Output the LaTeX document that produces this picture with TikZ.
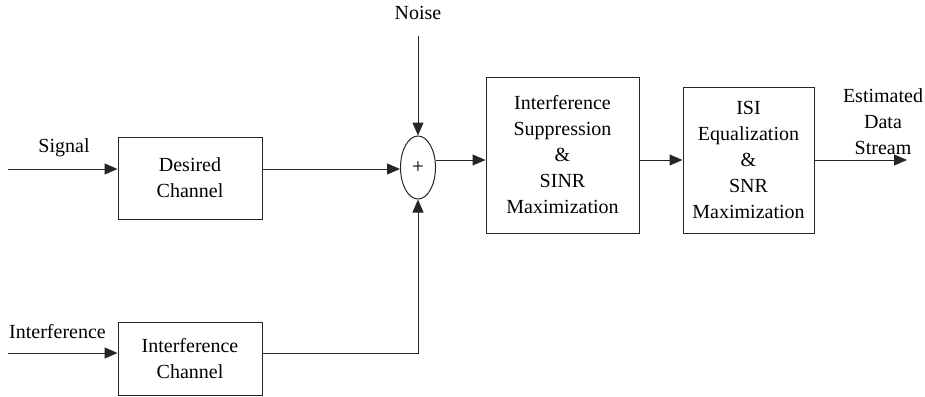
\documentclass[tikz,border=0pt]{standalone}
\usepackage{fontspec}
\setmainfont{Liberation Serif}
\usetikzlibrary{arrows.meta,shapes.geometric}
\begin{document}
\begin{tikzpicture}[x=1pt,y=-1pt,
  blk/.style={draw=black!85, line width=1pt, inner sep=0pt, align=center, font=\fontsize{20}{26}\selectfont},
  lbl/.style={inner sep=0pt, align=center, font=\fontsize{20}{26}\selectfont},
  arr/.style={draw=black!85, -{Triangle[length=13pt,width=11pt]}, line width=1pt}]
\useasboundingbox (0,0) rectangle (925,396);

% blocks
\node[blk, minimum width=144pt, minimum height=82pt] (dc) at (190,178) {Desired\\Channel};
\node[blk, minimum width=144pt, minimum height=73pt] (ic) at (190,358.5) {Interference\\Channel};
\node[blk, ellipse, minimum width=35pt, minimum height=63pt, font=\fontsize{21}{21}\selectfont] (sum) at (418,167.5) {+};
\node[blk, minimum width=153pt, minimum height=156pt] (is) at (562.5,155) {Interference\\Suppression\\\&\\SINR\\Maximization};
\node[blk, minimum width=131pt, minimum height=146pt] (isi) at (748.5,160) {ISI\\Equalization\\\&\\SNR\\Maximization};

% labels
\node[lbl] (lsig) at (64,148) {Signal};
\node[lbl] (lint) at (57.5,332) {Interference};
\node[lbl] (lnoise) at (418,13) {Noise};
\node[lbl] (lout) at (883,122) {Estimated\\Data\\Stream};

% free ends
\coordinate (sig) at (8,169);
\coordinate (intf) at (8,353);
\coordinate (noise) at (418,36);
\coordinate (out) at (907,160);
\coordinate (so) at ([yshift=7.5pt]sum.east);
\coordinate (m) at (0,160);

% connectors
\draw[arr] (sig) -- (sig -| dc.west);
\draw[arr] (intf) -- (intf -| ic.west);
\draw[arr] (dc.east |- sig) -- (sum.west |- sig);
\draw[arr] (noise) -- (sum.north);
\draw[arr] (intf -| ic.east) -| (sum.south);
\draw[arr] (so) -- (so -| is.west);
\draw[arr] (m -| is.east) -- (m -| isi.west);
\draw[arr] (m -| isi.east) -- (out);
\end{tikzpicture}
\end{document}
